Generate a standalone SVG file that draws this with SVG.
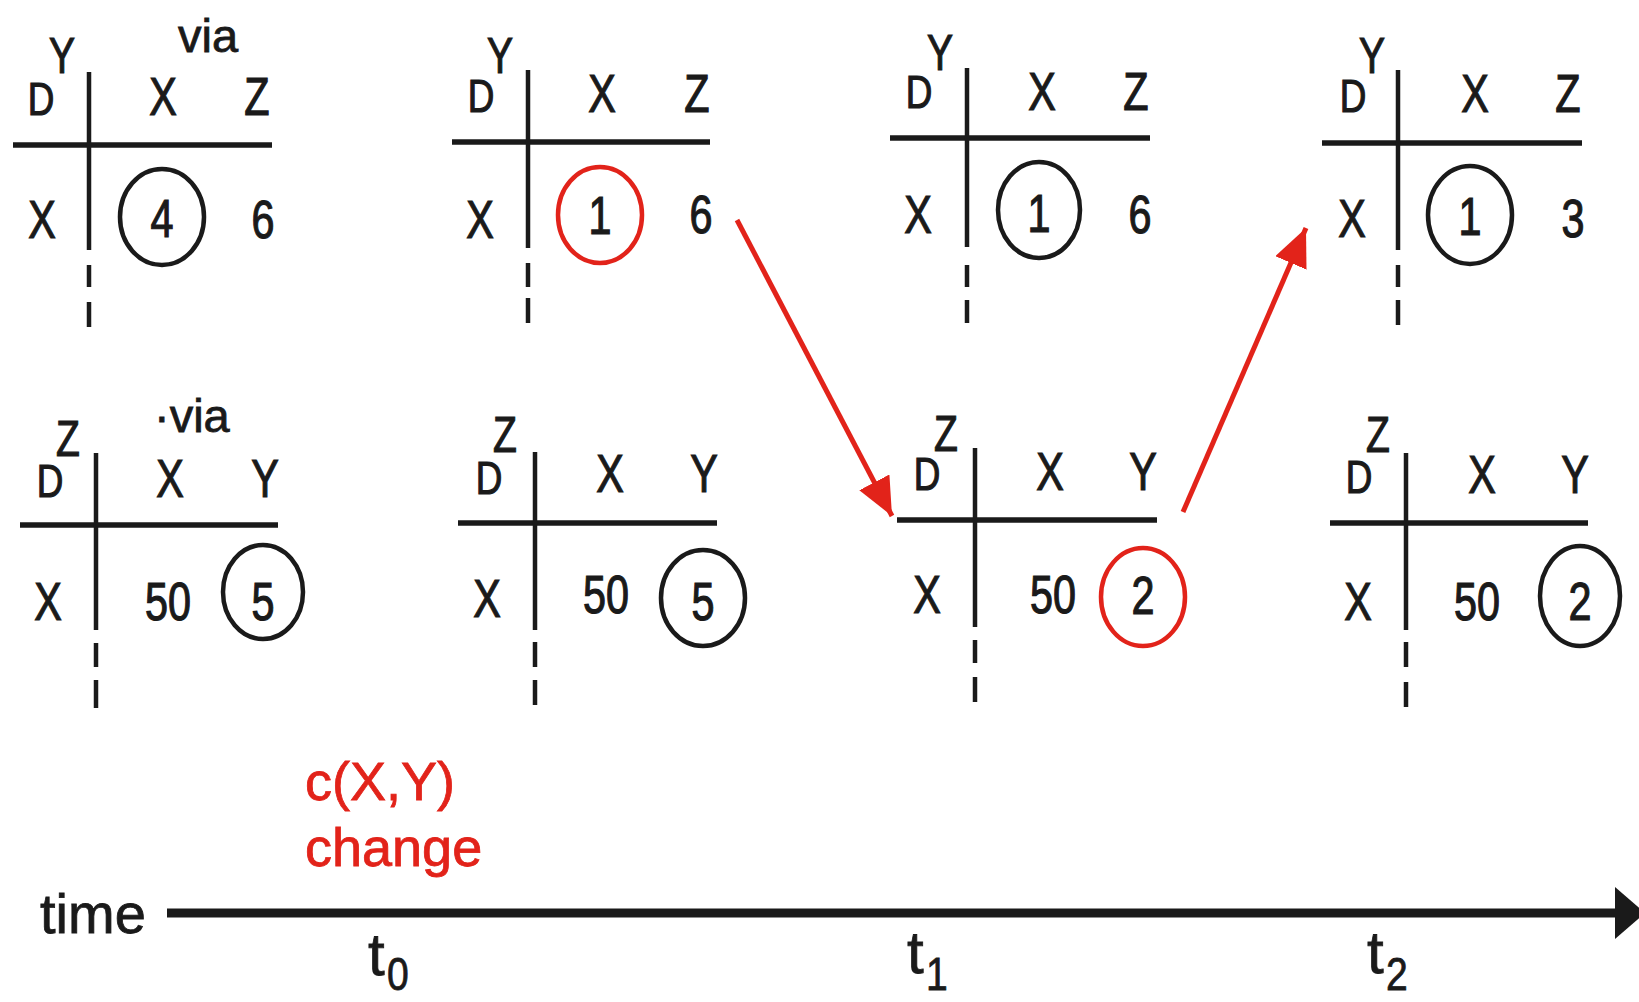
<svg xmlns="http://www.w3.org/2000/svg" width="1639" height="1002" viewBox="0 0 1639 1002">
<style>
.t{font-family:"Liberation Sans",Arial,sans-serif;fill:#1a1a1a;stroke:#1a1a1a;stroke-width:1.2;text-anchor:middle}
.m{font-size:53px}
.d{font-size:46px}
.s{font-size:50px}
.via{font-family:"Liberation Sans",Arial,sans-serif;fill:#1a1a1a;stroke:#1a1a1a;stroke-width:0.8;font-size:47px}
.h{stroke:#1a1a1a;stroke-width:5.5;fill:none}
.v{stroke:#1a1a1a;stroke-width:4.5;fill:none}
.ring{fill:none;stroke:#1a1a1a;stroke-width:4.5}
.redring{fill:none;stroke:#e2231a;stroke-width:4.5}
.red{font-family:"Liberation Sans",Arial,sans-serif;fill:#e2231a;stroke:#e2231a;stroke-width:0.8;font-size:54px}
.ax{font-family:"Liberation Sans",Arial,sans-serif;fill:#1a1a1a;stroke:#1a1a1a;stroke-width:0.8}
</style>
<defs>
<marker id="ah" markerUnits="userSpaceOnUse" markerWidth="42" markerHeight="36" refX="38" refY="17" orient="auto">
<path d="M0,0 L38,17 L0,34 Z" fill="#e2231a"/>
</marker>
</defs>

<g id="table-y-t0">
<text class="via" x="178" y="52">via</text>
<text class="t s" transform="translate(62,73) scale(0.78,1)">Y</text>
<text class="t d" transform="translate(41,115) scale(0.8,1)">D</text>
<text class="t m" transform="translate(163,115) scale(0.78,1)">X</text>
<text class="t m" transform="translate(257,115) scale(0.78,1)">Z</text>
<line class="h" x1="13" y1="145" x2="272" y2="145"/>
<line class="v" x1="89" y1="72" x2="89" y2="250"/>
<line class="v" x1="89" y1="265" x2="89" y2="287"/>
<line class="v" x1="89" y1="302" x2="89" y2="327"/>
<text class="t m" transform="translate(42,238) scale(0.78,1)">X</text>
<ellipse class="ring" cx="162" cy="217" rx="42" ry="48"/>
<text class="t m" transform="translate(162,237) scale(0.78,1)">4</text>
<text class="t m" transform="translate(263,238) scale(0.78,1)">6</text>
</g>

<g id="table-y-t0b">
<text class="t s" transform="translate(500,73) scale(0.78,1)">Y</text>
<text class="t d" transform="translate(481,112) scale(0.8,1)">D</text>
<text class="t m" transform="translate(602,112) scale(0.78,1)">X</text>
<text class="t m" transform="translate(697,112) scale(0.78,1)">Z</text>
<line class="h" x1="452" y1="142" x2="710" y2="142"/>
<line class="v" x1="528" y1="70" x2="528" y2="248"/>
<line class="v" x1="528" y1="263" x2="528" y2="287"/>
<line class="v" x1="528" y1="298" x2="528" y2="323"/>
<text class="t m" transform="translate(480,238) scale(0.78,1)">X</text>
<ellipse class="redring" cx="600" cy="215" rx="42" ry="48"/>
<text class="t m" transform="translate(600,234) scale(0.78,1)">1</text>
<text class="t m" transform="translate(701,233) scale(0.78,1)">6</text>
</g>

<g id="table-y-t1">
<text class="t s" transform="translate(940,70) scale(0.78,1)">Y</text>
<text class="t d" transform="translate(919,108) scale(0.8,1)">D</text>
<text class="t m" transform="translate(1042,110) scale(0.78,1)">X</text>
<text class="t m" transform="translate(1136,110) scale(0.78,1)">Z</text>
<line class="h" x1="890" y1="138" x2="1150" y2="138"/>
<line class="v" x1="967" y1="68" x2="967" y2="247"/>
<line class="v" x1="967" y1="265" x2="967" y2="287"/>
<line class="v" x1="967" y1="300" x2="967" y2="323"/>
<text class="t m" transform="translate(918,233) scale(0.78,1)">X</text>
<ellipse class="ring" cx="1039" cy="210" rx="41" ry="48"/>
<text class="t m" transform="translate(1039,232) scale(0.78,1)">1</text>
<text class="t m" transform="translate(1140,233) scale(0.78,1)">6</text>
</g>

<g id="table-y-t2">
<text class="t s" transform="translate(1372,73) scale(0.78,1)">Y</text>
<text class="t d" transform="translate(1353,112) scale(0.8,1)">D</text>
<text class="t m" transform="translate(1475,112) scale(0.78,1)">X</text>
<text class="t m" transform="translate(1568,112) scale(0.78,1)">Z</text>
<line class="h" x1="1322" y1="143" x2="1582" y2="143"/>
<line class="v" x1="1398" y1="70" x2="1398" y2="250"/>
<line class="v" x1="1398" y1="265" x2="1398" y2="287"/>
<line class="v" x1="1398" y1="300" x2="1398" y2="325"/>
<text class="t m" transform="translate(1352,237) scale(0.78,1)">X</text>
<ellipse class="ring" cx="1470" cy="215" rx="42" ry="49"/>
<text class="t m" transform="translate(1470,235) scale(0.78,1)">1</text>
<text class="t m" transform="translate(1573,237) scale(0.78,1)">3</text>
</g>

<g id="table-z-t0">
<text class="via" x="154" y="432">·via</text>
<text class="t s" transform="translate(68,456) scale(0.78,1)">Z</text>
<text class="t d" transform="translate(50,497) scale(0.8,1)">D</text>
<text class="t m" transform="translate(170,497) scale(0.78,1)">X</text>
<text class="t m" transform="translate(265,497) scale(0.78,1)">Y</text>
<line class="h" x1="20" y1="525" x2="278" y2="525"/>
<line class="v" x1="96" y1="453" x2="96" y2="630"/>
<line class="v" x1="96" y1="643" x2="96" y2="667"/>
<line class="v" x1="96" y1="680" x2="96" y2="708"/>
<text class="t m" transform="translate(48,620) scale(0.78,1)">X</text>
<text class="t m" transform="translate(168,620) scale(0.78,1)">50</text>
<ellipse class="ring" cx="263" cy="592" rx="40" ry="47"/>
<text class="t m" transform="translate(263,620) scale(0.78,1)">5</text>
</g>

<g id="table-z-t0b">
<text class="t s" transform="translate(505,452) scale(0.78,1)">Z</text>
<text class="t d" transform="translate(489,494) scale(0.8,1)">D</text>
<text class="t m" transform="translate(610,492) scale(0.78,1)">X</text>
<text class="t m" transform="translate(704,492) scale(0.78,1)">Y</text>
<line class="h" x1="458" y1="523" x2="717" y2="523"/>
<line class="v" x1="535" y1="452" x2="535" y2="630"/>
<line class="v" x1="535" y1="642" x2="535" y2="667"/>
<line class="v" x1="535" y1="680" x2="535" y2="705"/>
<text class="t m" transform="translate(487,617) scale(0.78,1)">X</text>
<text class="t m" transform="translate(606,613) scale(0.78,1)">50</text>
<ellipse class="ring" cx="703" cy="598" rx="42" ry="48"/>
<text class="t m" transform="translate(703,620) scale(0.78,1)">5</text>
</g>

<g id="table-z-t1">
<text class="t s" transform="translate(946,451) scale(0.78,1)">Z</text>
<text class="t d" transform="translate(927,490) scale(0.8,1)">D</text>
<text class="t m" transform="translate(1050,490) scale(0.78,1)">X</text>
<text class="t m" transform="translate(1143,490) scale(0.78,1)">Y</text>
<line class="h" x1="897" y1="520" x2="1157" y2="520"/>
<line class="v" x1="975" y1="448" x2="975" y2="627"/>
<line class="v" x1="975" y1="640" x2="975" y2="663"/>
<line class="v" x1="975" y1="677" x2="975" y2="702"/>
<text class="t m" transform="translate(927,613) scale(0.78,1)">X</text>
<text class="t m" transform="translate(1053,613) scale(0.78,1)">50</text>
<ellipse class="redring" cx="1143" cy="597" rx="42" ry="49"/>
<text class="t m" transform="translate(1143,614) scale(0.78,1)">2</text>
</g>

<g id="table-z-t2">
<text class="t s" transform="translate(1378,452) scale(0.78,1)">Z</text>
<text class="t d" transform="translate(1359,493) scale(0.8,1)">D</text>
<text class="t m" transform="translate(1482,493) scale(0.78,1)">X</text>
<text class="t m" transform="translate(1575,493) scale(0.78,1)">Y</text>
<line class="h" x1="1330" y1="523" x2="1588" y2="523"/>
<line class="v" x1="1406" y1="453" x2="1406" y2="630"/>
<line class="v" x1="1406" y1="642" x2="1406" y2="667"/>
<line class="v" x1="1406" y1="682" x2="1406" y2="707"/>
<text class="t m" transform="translate(1358,620) scale(0.78,1)">X</text>
<text class="t m" transform="translate(1477,620) scale(0.78,1)">50</text>
<ellipse class="ring" cx="1580" cy="596" rx="40" ry="50"/>
<text class="t m" transform="translate(1580,620) scale(0.78,1)">2</text>
</g>

<g id="connectors">
<line x1="737" y1="220" x2="892" y2="516" stroke="#e2231a" stroke-width="5" marker-end="url(#ah)"/>
<line x1="1183" y1="512" x2="1306" y2="228" stroke="#e2231a" stroke-width="5" marker-end="url(#ah)"/>
</g>

<g id="timeline">
<text class="red" x="305" y="800">c(X,Y)</text>
<text class="red" x="305" y="866" font-size="55">change</text>
<text class="ax" x="40" y="933" font-size="56">time</text>
<line x1="167" y1="913" x2="1620" y2="913" stroke="#1a1a1a" stroke-width="9"/>
<path d="M1615,887 L1645,913 L1615,939 Z" fill="#1a1a1a"/>
<text class="ax" x="368" y="975" font-size="60">t</text>
<text class="ax" x="387" y="990" font-size="46" transform="translate(387,0) scale(0.85,1) translate(-387,0)">0</text>
<text class="ax" x="907" y="973" font-size="60">t</text>
<text class="ax" x="926" y="990" font-size="46" transform="translate(926,0) scale(0.85,1) translate(-926,0)">1</text>
<text class="ax" x="1367" y="973" font-size="60">t</text>
<text class="ax" x="1386" y="990" font-size="46" transform="translate(1386,0) scale(0.85,1) translate(-1386,0)">2</text>
</g>
</svg>
